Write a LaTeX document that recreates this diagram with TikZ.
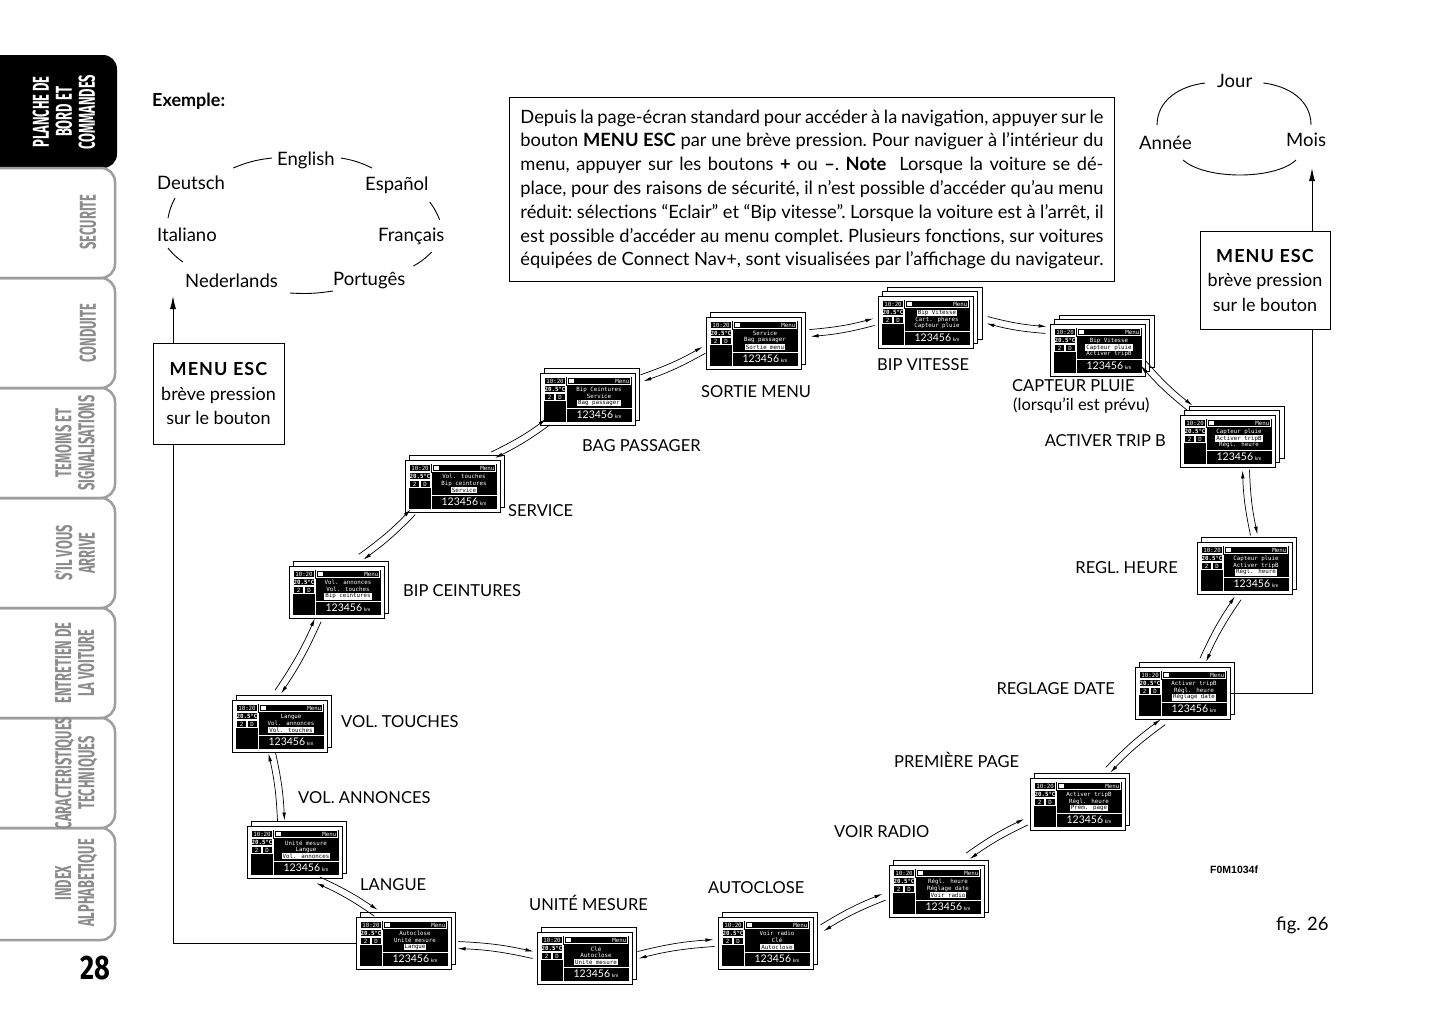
\documentclass[tikz,border=0pt]{standalone}
\usepackage{fontspec}
\usepackage{graphicx}
\setmainfont{Lato}
\newfontfamily\scrfont{DejaVu Sans Mono}
\newfontfamily\tabfont{Fira Sans}
\newfontfamily\codefont{Liberation Sans}
\usetikzlibrary{arrows.meta,calc}
\definecolor{tabgray}{gray}{0.55}
\definecolor{tabline}{gray}{0.62}

\tikzset{
 lbl/.style={inner sep=0pt, font=\fontsize{16.5}{19}\selectfont},
 lang/.style={inner sep=0pt, font=\fontsize{18.5}{20}\selectfont},
 arr/.style={line width=0.7pt, -{Latex[length=8pt,width=3.6pt]}},
 bigarr/.style={line width=0.9pt, -{Latex[length=13pt,width=6pt]}},
 conn/.style={line width=0.9pt},
 boxst/.style={draw, line width=0.9pt, align=center, inner sep=0pt, font=\fontsize{18}{24.5}\selectfont},
 scrframe/.style={draw=black, fill=white, line width=0.6pt},
 scrfront/.style={draw=black, fill=white, line width=0.6pt, minimum width=95pt, minimum height=52pt, inner sep=0pt},
 scrtxt/.style={inner sep=0pt, text=white, font=\scrfont\fontsize{5.8}{5.8}\selectfont},
 scrw/.style={draw=white, line width=0.45pt},
 tabtxt/.style={inner sep=0pt, rotate=90, text=tabgray, font=\tabfont\bfseries\fontsize{23}{22}\selectfont},
 tabedge/.style={draw=tabline, line width=2.5pt, rounded corners=14pt},
}

\newcommand\scrline[4]{\ifnum#3=#4
 \node[scrtxt,fill=white,text=black,inner xsep=1pt,inner ysep=0.5pt] at (59,#1) {#2};\else
 \node[scrtxt] at (59,#1) {#2};\fi}

\newcommand\scrn[8]{%
\begin{scope}[shift={(#2,#3)}]
 \ifnum#4>2 \filldraw[scrframe] (9,-9) rectangle ++(95,52);\fi
 \filldraw[scrframe] (4.5,-4.5) rectangle ++(95,52);
 \node[scrfront] (#1) at (47.5,26) {};
 \fill[black] (3.5,3.5) rectangle (91.5,48.5);
 \draw[scrw] (4.5,4.5) rectangle (25.5,11.5);
 \node[scrtxt] at (15,8) {10:20};
 \draw[scrw] (4.5,12.5) rectangle (25.5,19.5);
 \node[scrtxt] at (15,16) {\bfseries 20.5°C};
 \draw[scrw] (4.5,20.5) rectangle (14.5,27.5);
 \node[scrtxt] at (9.5,24) {2};
 \draw[scrw] (15,20.5) rectangle (25.5,27.5);
 \node[scrtxt] at (20.2,24) {D};
 \draw[scrw] (27.5,4.5) rectangle (90.5,11.5);
 \fill[white] (29,5.8) rectangle (34,10.2);
 \node[scrtxt, anchor=east] at (89.5,8) {Menu};
 \draw[scrw] (26.5,12.5) -- (26.5,48.5);
 \draw[scrw] (26.5,35) -- (91.5,35);
 \scrline{16.8}{#5}{1}{#8}
 \scrline{23.5}{#6}{2}{#8}
 \scrline{30.2}{#7}{3}{#8}
 \node[inner sep=0pt, text=white] at (59,42) {{\fontsize{10.5}{10.5}\selectfont 123456}\,{\fontsize{5}{5}\selectfont km}};
\end{scope}}

\newcommand\biarr[2]{%
 \draw[arr] ($(#1)!3.5pt!90:(#2)$) to[bend left=5] ($(#2)!3.5pt!-90:(#1)$);
 \draw[arr] ($(#2)!3.5pt!90:(#1)$) to[bend right=5] ($(#1)!3.5pt!-90:(#2)$);}

\begin{document}
\begin{tikzpicture}[x=1pt,y=-1pt]
\useasboundingbox (0,0) rectangle (1445,1026);
\fill[white] (0,0) rectangle (1445,1026);

% ---------- side tabs ----------
\fill[black, rounded corners=14pt] (-20,55) -- (117,55) -- (117,168) -- (-20,168) -- cycle;
\draw[tabedge] (-20,168) -- (115,168) -- (115,278) -- (-20,278);
\draw[tabedge] (-20,278) -- (115,278) -- (115,388) -- (-20,388);
\draw[tabedge] (-20,388) -- (115,388) -- (115,498) -- (-20,498);
\draw[tabedge] (-20,498) -- (115,498) -- (115,608) -- (-20,608);
\draw[tabedge] (-20,608) -- (115,608) -- (115,718) -- (-20,718);
\draw[tabedge] (-20,718) -- (115,718) -- (115,828) -- (-20,828);
\draw[tabedge] (-20,828) -- (115,828) -- (115,940) -- (-20,940);

\node[tabtxt, text=white] (t1) at (67,112) {\scalebox{0.56}[1]{\begin{tabular}{@{}c@{}}PLANCHE DE\\BORD ET\\COMMANDES\end{tabular}}};
\node[tabtxt] (t2) at (88,222) {\scalebox{0.56}[1]{SECURITE}};
\node[tabtxt] (t3) at (88,333) {\scalebox{0.56}[1]{CONDUITE}};
\node[tabtxt] (t4) at (78,443) {\scalebox{0.56}[1]{\begin{tabular}{@{}c@{}}TEMOINS ET\\SIGNALISATIONS\end{tabular}}};
\node[tabtxt] (t5) at (78,553) {\scalebox{0.56}[1]{\begin{tabular}{@{}c@{}}S’IL VOUS\\ARRIVE\end{tabular}}};
\node[tabtxt] (t6) at (78,663) {\scalebox{0.56}[1]{\begin{tabular}{@{}c@{}}ENTRETIEN DE\\LA VOITURE\end{tabular}}};
\node[tabtxt] (t7) at (78,773) {\scalebox{0.56}[1]{\begin{tabular}{@{}c@{}}CARACTERISTIQUES\\TECHNIQUES\end{tabular}}};
\node[tabtxt] (t8) at (78,883) {\scalebox{0.56}[1]{\begin{tabular}{@{}c@{}}INDEX\\ALPHABETIQUE\end{tabular}}};
\node[inner sep=0pt, font=\tabfont\bfseries\fontsize{34}{34}\selectfont] (pnum) at (95,968) {\scalebox{0.8}[1]{28}};

% ---------- example / languages ----------
\node[anchor=west, inner sep=0pt, font=\bfseries\fontsize{18}{20}\selectfont] (ex) at (152,101) {Exemple:};
\node[lang, anchor=west] (english) at (277,160) {English};
\node[lang, anchor=west] (deutsch) at (157,183) {Deutsch};
\node[lang, anchor=west] (espanol) at (365,185) {Español};
\node[lang, anchor=west] (italiano) at (157,235) {Italiano};
\node[lang, anchor=west] (francais) at (378,236) {Français};
\node[lang, anchor=west] (nederlands) at (185,281) {Nederlands};
\node[lang, anchor=west] (portuges) at (333,281) {Portugês};
\draw[conn] ($(deutsch.east)+(8,-15)$) to[bend left=8] ($(english.west)+(-5,-2)$);
\draw[conn] ($(english.east)+(6,-2)$) to[bend left=8] ($(espanol.west)+(7,-17)$);
\draw[conn] ($(espanol.east)+(1,17)$) to[bend left=8] ($(francais.east)+(-5,-16)$);
\draw[conn] ($(francais.east)+(-13,16)$) to[bend left=8] ($(portuges.east)+(8,-15)$);
\draw[conn] ($(portuges.west)+(0,10)$) to[bend left=6] ($(nederlands.east)+(12,12)$);
\draw[conn] ($(nederlands.west)+(-2,-19)$) to[bend left=8] ($(italiano.west)+(11,13)$);
\draw[conn] ($(italiano.west)+(11,-17)$) to[bend left=8] ($(deutsch.west)+(18,15)$);

% ---------- date cycle ----------
\node[lang, anchor=west] (jour) at (1217,81) {Jour};
\node[lang, anchor=west] (annee) at (1139,143) {Année};
\node[lang, anchor=west] (mois) at (1286,140) {Mois};
\draw[conn] ($(jour.west)+(-12,2)$) .. controls ($(jour.west)+(-37,5)$) and ($(annee.east)+(-35,-43)$) .. ($(annee.east)+(-35,-18)$);
\draw[conn] ($(jour.east)+(11,2)$) .. controls ($(jour.east)+(36,5)$) and ($(mois.west)+(25,-40)$) .. ($(mois.west)+(25,-15)$);
\draw[conn] ($(annee.east)+(-9,17)$) .. controls ($(annee.east)+(13,37)$) and ($(mois.west)+(-11,40)$) .. ($(mois.west)+(10,20)$);

% ---------- note box ----------
\node[draw, line width=0.9pt, anchor=north west, minimum width=605pt, minimum height=184pt, inner xsep=10pt, inner ysep=0pt, align=left, font=\fontsize{18.3}{23.8}\selectfont\frenchspacing] (note) at (509,97) {%
\makebox[583pt][s]{Depuis la page-écran standard pour accéder à la navigation, appuyer sur le}\\
\makebox[583pt][s]{bouton \textbf{MENU ESC} par une brève pression. Pour naviguer à l’intérieur du}\\
\makebox[583pt][s]{menu, appuyer sur les boutons \textbf{+} ou \textbf{–}. \textbf{Note}\ \ Lorsque la voiture se dé-}\\
\makebox[583pt][s]{place, pour des raisons de sécurité, il n’est possible d’accéder qu’au menu}\\
\makebox[583pt][s]{réduit: sélections “Eclair” et “Bip vitesse”. Lorsque la voiture est à l’arrêt, il}\\
\makebox[583pt][s]{est possible d’accéder au menu complet. Plusieurs fonctions, sur voitures}\\
\makebox[583pt][s]{équipées de Connect Nav+, sont visualisées par l’affichage du navigateur.}};

% ---------- MENU ESC boxes ----------
\node[boxst, minimum width=131pt, minimum height=101pt] (lbox) at (218.5,393.5) {{\bfseries\addfontfeature{LetterSpace=6}MENU ESC}\\brève pression\\sur le bouton};
\node[boxst, minimum width=130pt, minimum height=98pt] (rbox) at (1265,280) {{\bfseries\addfontfeature{LetterSpace=6}MENU ESC}\\brève pression\\sur le bouton};

% ---------- screens ----------
\scrn{s1}{356}{917}{2}{Autoclose}{Unité mesure}{Langue}{3}
\scrn{s2}{537}{932}{2}{Clé}{Autoclose}{Unité mesure}{3}
\scrn{s3}{718}{917}{2}{Voir radio}{Clé}{Autoclose}{3}
\scrn{s4}{889}{865}{2}{Régl. heure}{Réglage date}{Voir radio}{3}
\scrn{s5}{1030}{778}{2}{Activer tripB}{Régl. heure}{Prem. page}{3}
\scrn{s6}{1135}{667}{2}{Activer tripB}{Régl. heure}{Réglage date}{3}
\scrn{s7}{1197}{542}{2}{Capteur pluie}{Activer tripB}{Régl. heure}{3}
\scrn{s8}{1180}{415}{3}{Capteur pluie}{Activer tripB}{Régl. heure}{2}
\scrn{s9}{1050}{324}{3}{Bip Vitesse}{Capteur pluie}{Activer tripB}{2}
\scrn{s10}{878}{296}{3}{Bip Vitesse}{Cart. phares}{Capteur pluie}{1}
\scrn{s11}{706}{317}{2}{Service}{Bag passager}{Sortie menu}{3}
\scrn{s12}{540}{373}{2}{Bip Ceintures}{Service}{Bag passager}{3}
\scrn{s13}{405}{460}{2}{Vol. touches}{Bip ceintures}{Service}{3}
\scrn{s14}{289}{566}{2}{Vol. annonces}{Vol. touches}{Bip ceintures}{3}
\scrn{s15}{232}{700}{2}{Langue}{Vol. annonces}{Vol. touches}{3}
\scrn{s16}{247}{826}{2}{Unité mesure}{Langue}{Vol. annonces}{3}

% ---------- arrow end points ----------
\coordinate (a1) at ($(s1)+(54.5,2)$);   \coordinate (b1) at ($(s2)+(-51.5,-3)$);
\coordinate (a2) at ($(s2)+(53.5,-3)$);  \coordinate (b2) at ($(s3)+(-51.5,0)$);
\coordinate (a3) at ($(s3)+(56.5,-15)$); \coordinate (b3) at ($(s4)+(-52.5,6)$);
\coordinate (a4) at ($(s4)+(31.5,-35)$); \coordinate (b4) at ($(s5)+(-51.5,18)$);
\coordinate (a5) at ($(s5)+(30.5,-34)$); \coordinate (b5) at ($(s6)+(-19.5,29)$);
\coordinate (a6) at ($(s6)+(20.5,-33)$); \coordinate (b6) at ($(s7)+(-6.5,30)$);
\coordinate (a7) at ($(s7)+(9.5,-33)$);  \coordinate (b7) at ($(s8)+(18.5,29)$);
\coordinate (a8) at ($(s8)+(-37.5,-33)$); \coordinate (b8) at ($(s9)+(45.5,13)$);
\coordinate (a9) at ($(s9)+(-51.5,-20)$); \coordinate (b9) at ($(s10)+(61.5,-2)$);
\coordinate (a10) at ($(s10)+(-51.5,0)$); \coordinate (b10) at ($(s11)+(56.5,-10)$);
\coordinate (a11) at ($(s11)+(-49.5,7)$); \coordinate (b11) at ($(s12)+(54.5,-21)$);
\coordinate (a12) at ($(s12)+(-39.5,23)$); \coordinate (b12) at ($(s13)+(40.5,-31)$);
\coordinate (a13) at ($(s13)+(-39.5,26)$); \coordinate (b13) at ($(s14)+(24.5,-35)$);
\coordinate (a14) at ($(s14)+(-18.5,28)$); \coordinate (b14) at ($(s15)+(-1.5,-34)$);
\coordinate (a15) at ($(s15)+(-7.5,27)$); \coordinate (b15) at ($(s16)+(-13.5,-31)$);
\coordinate (a16) at ($(s16)+(23.5,28)$); \coordinate (b16) at ($(s1)+(-27.5,-30)$);
\biarr{a1}{b1} \biarr{a2}{b2} \biarr{a3}{b3} \biarr{a4}{b4}
\biarr{a5}{b5} \biarr{a6}{b6} \biarr{a7}{b7} \biarr{a8}{b8}
\biarr{a9}{b9} \biarr{a10}{b10} \biarr{a11}{b11} \biarr{a12}{b12}
\biarr{a13}{b13} \biarr{a14}{b14} \biarr{a15}{b15} \biarr{a16}{b16}

% ---------- MENU ESC connectors ----------
\coordinate (larr) at (173,296);
\draw[conn] (s1.west) -- (s1.west -| larr) -- (lbox.south -| larr);
\draw[bigarr] (lbox.north -| larr) -- (larr);
\coordinate (rarr) at (1312,168);
\draw[conn] (s6.east) -- (s6.east -| rarr) -- (rbox.south -| rarr);
\draw[bigarr] (rbox.north -| rarr) -- (rarr);

% ---------- labels ----------
\node[lbl, anchor=west] (n1) at (360,885) {LANGUE};
\node[lbl, anchor=west] (n2) at (529,903) {UNITÉ MESURE};
\node[lbl, anchor=west] (n3) at (708,888) {AUTOCLOSE};
\node[lbl, anchor=west] (n4) at (834,832) {VOIR RADIO};
\node[lbl, anchor=west] (n5) at (894,760) {PREMIÈRE PAGE};
\node[lbl, anchor=east] (n6) at (1115,689) {REGLAGE DATE};
\node[lbl, anchor=east] (n7) at (1178,568) {REGL. HEURE};
\node[lbl, anchor=east] (n8) at (1166,441) {ACTIVER TRIP B};
\node[lbl, anchor=west] (n9) at (1012,386) {CAPTEUR PLUIE};
\node[lbl, anchor=west] (n9b) at (1013,406) {(lorsqu’il est prévu)};
\node[lbl, anchor=west] (n10) at (877,365) {BIP VITESSE};
\node[lbl, anchor=west] (n11) at (701,392) {SORTIE MENU};
\node[lbl, anchor=west] (n12) at (582,446) {BAG PASSAGER};
\node[lbl, anchor=west] (n13) at (508,511) {SERVICE};
\node[lbl, anchor=west] (n14) at (403,591) {BIP CEINTURES};
\node[lbl, anchor=west] (n15) at (341,722) {VOL. TOUCHES};
\node[lbl, anchor=west] (n16) at (298,798) {VOL. ANNONCES};

\node[anchor=west, inner sep=0pt, font=\codefont\bfseries\fontsize{10.5}{12}\selectfont] (code) at (1210,870) {F0M1034f};
\node[lang, anchor=west] (fig) at (1276,925) {fig. 26};
\end{tikzpicture}
\end{document}
